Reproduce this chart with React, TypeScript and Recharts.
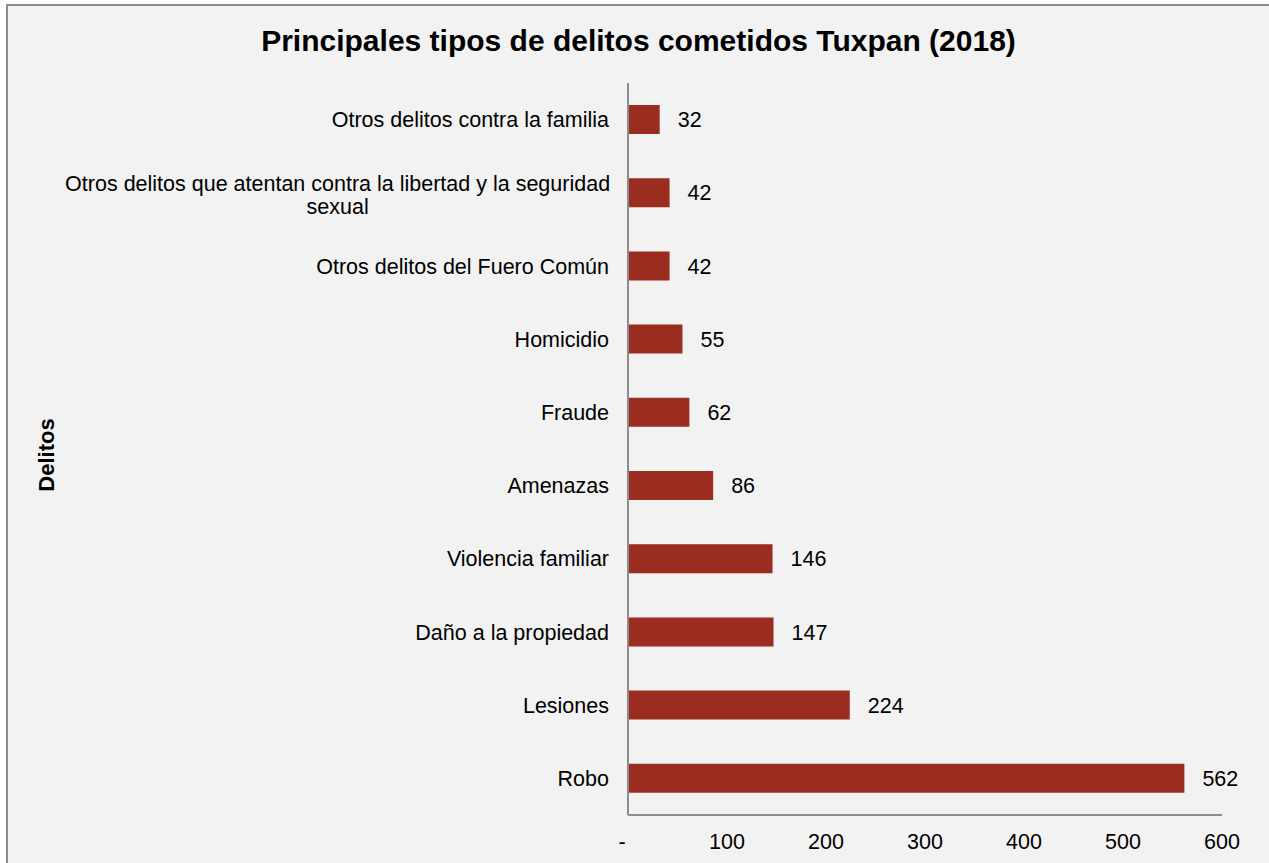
import { BarChart, Bar, XAxis, YAxis, LabelList } from "recharts";

const categories = [
  "Otros delitos contra la familia",
  "Otros delitos que atentan contra la libertad y la seguridad sexual",
  "Otros delitos del Fuero Común",
  "Homicidio",
  "Fraude",
  "Amenazas",
  "Violencia familiar",
  "Daño a la propiedad",
  "Lesiones",
  "Robo",
];

const values = [32, 42, 42, 55, 62, 86, 146, 147, 224, 562];

const xTicks = [0, 100, 200, 300, 400, 500, 600];

const data = categories.map((name, i) => ({ name, value: values[i] }));

const FONT = "'Liberation Sans', Arial, sans-serif";
const FS = 21.5;

function wrap(text: string, max: number) {
  const words = text.split(" ");
  const lines: string[] = [];
  let cur = "";
  words.forEach((w) => {
    if (cur && (cur + " " + w).length > max) {
      lines.push(cur);
      cur = w;
    } else {
      cur = cur ? cur + " " + w : w;
    }
  });
  if (cur) lines.push(cur);
  return lines;
}

function CategoryTick({ x, y, payload }: any) {
  const lines = wrap(payload.value, 60);
  if (lines.length === 1) {
    return (
      <text x={x} y={y} dy="0.35em" textAnchor="end" fontSize={FS} fill="#000" fontFamily={FONT}>
        {payload.value}
      </text>
    );
  }
  const longest = Math.max(...lines.map((l) => l.length));
  const cx = x - (longest * 9.2) / 2;
  return (
    <text x={cx} y={y} textAnchor="middle" fontSize={FS} fill="#000" fontFamily={FONT}>
      {lines.map((l, i) => (
        <tspan key={i} x={cx} y={y - 9 + i * 23} dy="0.35em">
          {l}
        </tspan>
      ))}
    </text>
  );
}

function ValueTick({ x, y, payload }: any) {
  const isZero = payload.value === 0;
  return (
    <text
      x={isZero ? x - 6 : x}
      y={y}
      dy="0.71em"
      textAnchor="middle"
      fontSize={FS}
      fill="#000"
      fontFamily={FONT}
    >
      {isZero ? "-" : payload.value}
    </text>
  );
}

export default function App() {
  return (
    <div style={{ position: "absolute", left: 0, top: 0, width: 1269, height: 863, overflow: "hidden", background: "#fff" }}>
      <div
        style={{
          position: "absolute",
          left: 6,
          top: 4,
          width: 1280,
          height: 880,
          background: "#f2f2f2",
          border: "2px solid #8c8c8c",
        }}
      />
      <div
        style={{
          position: "absolute",
          left: 0,
          top: 24,
          width: 1277,
          textAlign: "center",
          fontFamily: FONT,
          fontWeight: "bold",
          fontSize: 30,
          color: "#000",
        }}
      >
        Principales tipos de delitos cometidos Tuxpan (2018)
      </div>
      <div
        style={{
          position: "absolute",
          left: 47,
          top: 455,
          transform: "translate(-50%, -50%) rotate(-90deg)",
          fontFamily: FONT,
          fontWeight: "bold",
          fontSize: 22,
          color: "#000",
        }}
      >
        Delitos
      </div>
      <div style={{ position: "absolute", left: 0, top: 0 }}>
        <BarChart
          width={1269}
          height={863}
          data={data}
          layout="vertical"
          margin={{ top: 83, right: 47, bottom: 18, left: 0 }}
          barCategoryGap="60%"
        >
          <XAxis
            type="number"
            domain={[0, 600]}
            ticks={xTicks}
            tickLine={false}
            axisLine={{ stroke: "#8c8c8c", strokeWidth: 2 }}
            tickSize={6}
            tickMargin={13}
            tick={<ValueTick />}
            interval={0}
            height={30}
          />
          <YAxis
            type="category"
            dataKey="name"
            width={628}
            tickLine={false}
            axisLine={{ stroke: "#8c8c8c", strokeWidth: 2 }}
            tickSize={6}
            tickMargin={13}
            tick={<CategoryTick />}
            interval={0}
          />
          <Bar dataKey="value" fill="#9a2c20" barSize={29} isAnimationActive={false}>
            <LabelList
              dataKey="value"
              position="right"
              offset={18}
              fontSize={FS}
              fill="#000"
              fontFamily={FONT}
            />
          </Bar>
        </BarChart>
      </div>
    </div>
  );
}
